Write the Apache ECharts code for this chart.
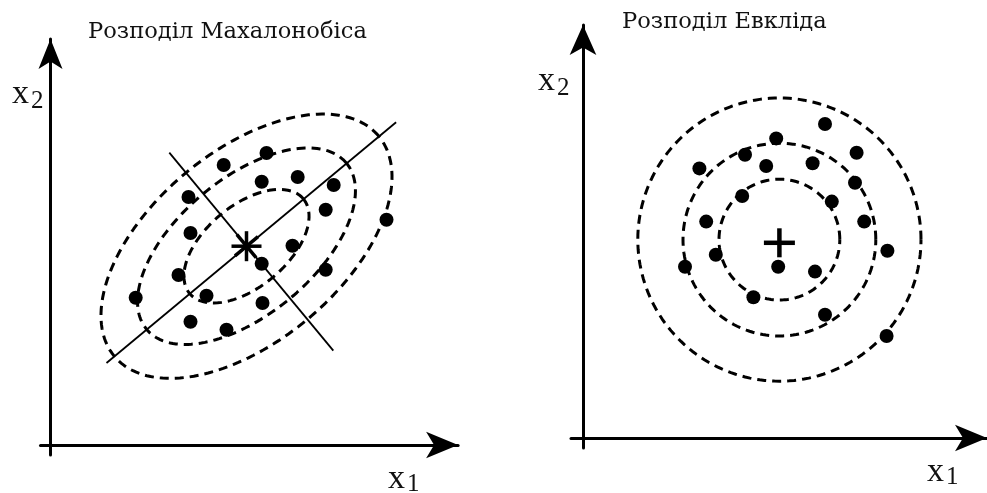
<!DOCTYPE html>
<html>
<head>
<meta charset="utf-8">
<script src="https://cdn.jsdelivr.net/npm/echarts@6/dist/echarts.min.js"></script>
<style>
  html, body { margin: 0; padding: 0; background: #fff; }
  #chart { width: 987px; height: 493px; }
</style>
</head>
<body>
<div id="chart"></div>
<script>
// ---- Left panel: correlated cloud with Mahalanobis contours ----
const mahalPoints = [
  [5.40, 7.30], [4.33, 7.00], [3.45, 6.20], [5.28, 6.58], [6.18, 6.70],
  [7.08, 6.50], [6.88, 5.88], [8.40, 5.63], [3.50, 5.30], [6.05, 4.98],
  [5.28, 4.53], [3.20, 4.25], [2.13, 3.68], [3.90, 3.73], [6.88, 4.38],
  [5.30, 3.55], [3.50, 3.08], [4.40, 2.88]
];
const mahalCenter = [4.90, 4.97];
const mahalAngle = 39.8;                       // tilt of the principal axis, degrees
const mahalRings = [[1.85, 1.02], [3.25, 1.70], [4.30, 2.38]];   // semi-axes of each contour
const mahalMajorAxis = [[1.40, 2.05], [8.64, 8.07]];
const mahalMinorAxis = [[2.97, 7.31], [7.07, 2.36]];

// ---- Right panel: same kind of cloud with Euclidean contours ----
const euclidPoints = [
  [6.05, 7.85], [4.83, 7.49], [2.91, 6.74], [4.05, 7.08], [4.58, 6.80],
  [5.74, 6.87], [6.84, 7.13], [6.80, 6.38], [3.98, 6.05], [6.22, 5.91],
  [3.08, 5.41], [7.03, 5.41], [3.32, 4.58], [2.55, 4.28], [4.88, 4.28],
  [5.80, 4.16], [7.61, 4.68], [4.26, 3.52], [6.05, 3.08], [7.59, 2.55]
];
const euclidCenter = [4.91, 4.96];
const euclidMarker = [4.91, 4.88];
const euclidRadii = [1.51, 2.41, 3.54];

// ---- Text ----
const titles = ['Розподіл Махалонобіса', 'Розподіл Евкліда'];

// Closed outline of an ellipse with the given semi-axes, tilted by deg.
function ellipseOutline(center, a, b, deg) {
  const t = deg * Math.PI / 180, n = 180, pts = [];
  for (let i = 0; i <= n; i++) {
    const u = 2 * Math.PI * i / n;
    const ex = a * Math.cos(u), ey = b * Math.sin(u);
    pts.push([center[0] + ex * Math.cos(t) - ey * Math.sin(t),
              center[1] + ex * Math.sin(t) + ey * Math.cos(t)]);
  }
  return pts;
}

const INK = '#000';
const dashStyle = { color: INK, width: 3, type: [9, 6] };

function contourSeries(grid, center, a, b, deg) {
  return {
    type: 'line', xAxisIndex: grid, yAxisIndex: grid,
    data: ellipseOutline(center, a, b, deg),
    showSymbol: false, symbol: 'none', silent: true,
    lineStyle: dashStyle, z: 2
  };
}

function hiddenAxis(grid, min, max, arrow) {
  return {
    type: 'value', gridIndex: grid, min: min, max: max,
    axisLine: {
      show: true, onZero: true,
      symbol: ['none', 'arrow'], symbolSize: arrow,
      lineStyle: { color: INK, width: 3 }
    },
    axisTick: { show: false }, axisLabel: { show: false }, splitLine: { show: false }
  };
}

const series = [];

// Left panel contours, principal axes, centre and points
mahalRings.forEach(r => series.push(contourSeries(0, mahalCenter, r[0], r[1], mahalAngle)));
[mahalMajorAxis, mahalMinorAxis].forEach(seg => series.push({
  type: 'line', xAxisIndex: 0, yAxisIndex: 0, data: seg,
  showSymbol: false, symbol: 'none', silent: true,
  lineStyle: { color: INK, width: 1.8 }, z: 2
}));
series.push({
  type: 'scatter', xAxisIndex: 0, yAxisIndex: 0, silent: true, z: 4,
  itemStyle: { color: INK, opacity: 1 },
  data: [0, 90, mahalAngle, mahalAngle + 90].map(rot => ({
    value: mahalCenter, symbol: 'rect', symbolSize: [3.5, 30], symbolRotate: rot
  }))
});
series.push({
  type: 'scatter', xAxisIndex: 0, yAxisIndex: 0, silent: true, z: 5,
  symbol: 'circle', symbolSize: 14, itemStyle: { color: INK, opacity: 1 },
  data: mahalPoints
});

// Right panel contours, centre and points
euclidRadii.forEach(r => series.push(contourSeries(1, euclidCenter, r, r, 0)));
series.push({
  type: 'scatter', xAxisIndex: 1, yAxisIndex: 1, silent: true, z: 4,
  itemStyle: { color: INK, opacity: 1 },
  data: [
    { value: euclidMarker, symbol: 'rect', symbolSize: [4.5, 31], symbolRotate: 90 },
    { value: euclidMarker, symbol: 'rect', symbolSize: [4.5, 29], symbolRotate: 0 }
  ]
});
series.push({
  type: 'scatter', xAxisIndex: 1, yAxisIndex: 1, silent: true, z: 5,
  symbol: 'circle', symbolSize: 14, itemStyle: { color: INK, opacity: 1 },
  data: euclidPoints
});

function label(x, y, text, size, family) {
  return {
    type: 'text', x: x, y: y, silent: true,
    style: {
      text: text, fill: '#111',
      font: size + 'px ' + family,
      align: 'left', verticalAlign: 'top',
      textAlign: 'left', textVerticalAlign: 'top'
    }
  };
}
const TITLE_FONT = '"DejaVu Serif", serif';
const NAME_FONT = '"Liberation Serif", serif';

const option = {
  animation: false,
  backgroundColor: '#fff',
  grid: [
    { left: 40.5, top: 39, width: 417.6, height: 416 },
    { left: 571, top: 25, width: 416, height: 423 }
  ],
  xAxis: [
    hiddenAxis(0, -0.25, 10.19, [20, 32]),
    hiddenAxis(1, -0.30, 10.10, [20, 32])
  ],
  yAxis: [
    hiddenAxis(0, -0.25, 10.15, [18, 30]),
    hiddenAxis(1, -0.25, 10.325, [20, 30])
  ],
  series: series,
  graphic: [
    label(88, 21, titles[0], 22.6, TITLE_FONT),
    label(622, 11, titles[1], 22.6, TITLE_FONT),
    // axis names with subscripts
    label(12, 77, 'x', 34, NAME_FONT), label(31, 89, '2', 25, NAME_FONT),
    label(388, 462, 'x', 34, NAME_FONT), label(407, 472, '1', 25, NAME_FONT),
    label(538, 64, 'x', 34, NAME_FONT), label(557, 76, '2', 25, NAME_FONT),
    label(927, 455, 'x', 34, NAME_FONT), label(946, 465, '1', 25, NAME_FONT)
  ]
};

echarts.init(document.getElementById('chart'), null, { renderer: 'canvas' }).setOption(option);
</script>
</body>
</html>
